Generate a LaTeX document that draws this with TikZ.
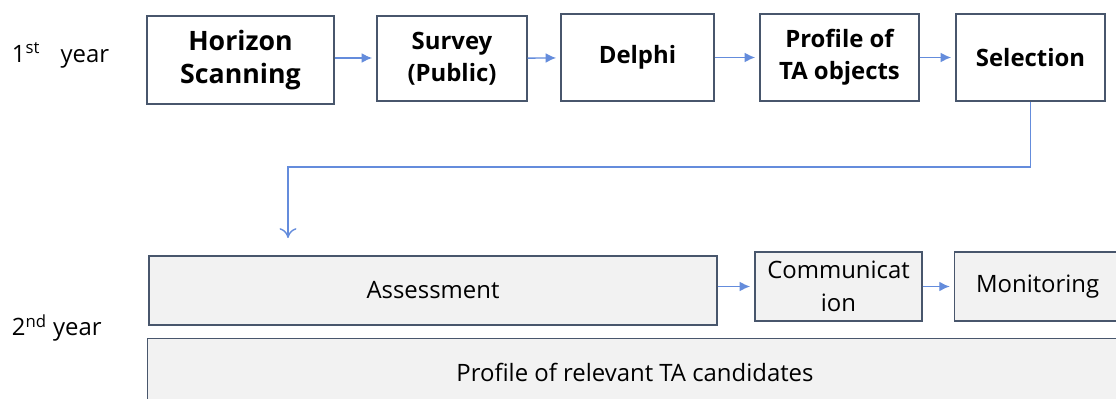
\documentclass[tikz,border=0pt]{standalone}
\usepackage{fontspec}
\setmainfont{Open Sans}
\usepackage{xcolor}
\usepackage{tikz}
\usetikzlibrary{arrows.meta,positioning,calc}
\definecolor{boxline}{RGB}{72,86,108}
\definecolor{boxfill}{RGB}{242,242,242}
\definecolor{arrowblue}{RGB}{100,140,220}
\newcommand{\pxu}{0.025cm}

\begin{document}
\begin{tikzpicture}[x=0.025cm,y=-0.025cm,
    topbox/.style={draw=boxline, line width=0.9pt, fill=white, align=center,
      inner sep=0pt, font=\fontsize{17}{23}\selectfont\bfseries},
    lowbox/.style={draw=boxline, line width=0.9pt, fill=boxfill, align=center,
      inner sep=0pt, font=\fontsize{17}{23}\selectfont},
    flow/.style={draw=arrowblue, line width=1pt, -{Latex[length=7.5pt,width=7pt]}, shorten >=3pt},
    yearlabel/.style={anchor=west, font=\fontsize{17}{20}\selectfont}]
  \clip (0,0) rectangle (1116,399);
  \fill[white] (0,0) rectangle (1116,399);
  % first year: scanning to selection
  \node[yearlabel] (year1) at (7,55) {1\textsuperscript{st}\hspace{0.85em}year};
  \node[topbox, minimum width=187*\pxu, minimum height=88*\pxu,
    font=\fontsize{19}{23}\selectfont\bfseries] (hs) at (240.5,60) {Horizon\\Scanning};
  \node[topbox, minimum width=150*\pxu, minimum height=85*\pxu] (survey) at (452,58.5) {Survey\\(Public)};
  \node[topbox, minimum width=153*\pxu, minimum height=87*\pxu] (delphi) at (637.5,57.5) {Delphi};
  \node[topbox, minimum width=159*\pxu, minimum height=87*\pxu] (profile) at (839.5,57.5) {Profile of\\TA objects};
  \node[topbox, minimum width=149*\pxu, minimum height=87*\pxu] (selection) at (1030.5,57.5) {Selection};
  \draw[flow] (hs.east |- 0,58) -- (survey.west |- 0,58);
  \draw[flow] (survey) -- (delphi);
  \draw[flow] (delphi) -- (profile);
  \draw[flow] (profile) -- (selection);
  % hand-over to second year
  \coordinate (turn) at (288,167);
  \coordinate (drop) at (288,238);
  \draw[draw=arrowblue, line width=1pt, -{To[length=7pt,width=12pt]}]
    (selection.south) -- (selection.south |- turn) -- (turn) -- (drop);
  % second year
  \node[yearlabel] (year2) at (7,328) {2\textsuperscript{nd} year};
  \node[lowbox, minimum width=568*\pxu, minimum height=69*\pxu] (assess) at (433,290.5) {Assessment};
  \node[lowbox, minimum width=167*\pxu, minimum height=69*\pxu] (comm) at (838.5,286.5) {Communicat\\ion};
  \node[lowbox, minimum width=166*\pxu, minimum height=69*\pxu,
    anchor=west] (monit) at (954,286.5) {Monitoring};
  \node[lowbox, minimum width=1000*\pxu, minimum height=80*\pxu,
    anchor=north west] (cand) at (147,338) {};
  \node[font=\fontsize{17}{20}\selectfont] (candtext) at (635,372) {Profile of relevant TA candidates};
  \draw[flow] (assess.east |- comm) -- (comm);
  \draw[flow] (comm) -- (monit);
\end{tikzpicture}
\end{document}
